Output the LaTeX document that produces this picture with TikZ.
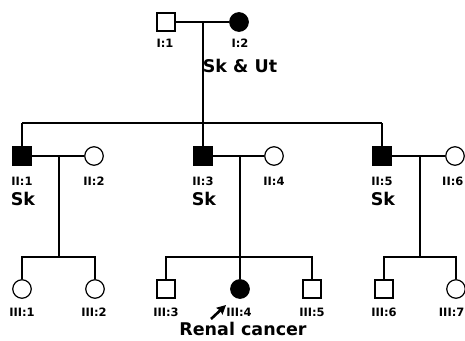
\documentclass[tikz,border=0pt]{standalone}
\usepackage{fontspec}
\setmainfont{DejaVu Sans}
\usetikzlibrary{arrows.meta}
\begin{document}
\begin{tikzpicture}[x=1pt,y=-1pt,
  line width=1.2pt,
  male/.style={draw,rectangle,minimum size=18pt,inner sep=0pt,fill=white},
  female/.style={draw,circle,minimum size=18.5pt,inner sep=0pt,fill=white},
  aff/.style={fill=black},
  idlab/.style={font=\bfseries\fontsize{11.5}{13}\selectfont,inner sep=0pt},
  biglab/.style={font=\bfseries\fontsize{17.5}{19}\selectfont,inner sep=0pt},
  rel/.style={draw=black,line width=1.2pt}]
\useasboundingbox (0,0) rectangle (465,340);
% Generation I
\node[male] (i1) at (166,22) {};
\node[female,aff] (i2) at (239,22) {};
\node[idlab] (li1) at (165,43) {I:1};
\node[idlab] (li2) at (240,43) {I:2};
\node[biglab] (sku) at (240,66) {Sk \& Ut};
\coordinate (m1) at (203,22);
\coordinate (s1) at (203,123);
\coordinate (s1l) at (22,123);
\coordinate (s1r) at (382,123);
% Generation II
\node[male,aff] (ii1) at (22,156) {};
\node[female] (ii2) at (94,156) {};
\node[male,aff] (ii3) at (203,156) {};
\node[female] (ii4) at (274,156) {};
\node[male,aff] (ii5) at (382,156) {};
\node[female] (ii6) at (455,156) {};
\node[idlab] (lii1) at (22,181) {II:1};
\node[idlab] (lii2) at (94,181) {II:2};
\node[idlab] (lii3) at (203,181) {II:3};
\node[idlab] (lii4) at (274,181) {II:4};
\node[idlab] (lii5) at (382,181) {II:5};
\node[idlab,anchor=east] (lii6) at (464,181) {II:6};
\node[biglab] (sk1) at (23,199) {Sk};
\node[biglab] (sk3) at (204,199) {Sk};
\node[biglab] (sk5) at (383,199) {Sk};
\coordinate (m21) at (59,156);
\coordinate (m22) at (240,156);
\coordinate (m23) at (420,156);
\coordinate (s21) at (59,257);
\coordinate (s22) at (240,257);
\coordinate (s23) at (420,257);
% Generation III
\node[female] (iii1) at (22,289) {};
\node[female] (iii2) at (95,289) {};
\node[male] (iii3) at (166,289) {};
\node[female,aff] (iii4) at (240,289) {};
\node[male] (iii5) at (312,289) {};
\node[male] (iii6) at (384,289) {};
\node[female] (iii7) at (456,289) {};
\node[idlab] (liii1) at (22,312) {III:1};
\node[idlab] (liii2) at (94,312) {III:2};
\node[idlab] (liii3) at (166,312) {III:3};
\node[idlab] (liii4) at (239,312) {III:4};
\node[idlab] (liii5) at (312,312) {III:5};
\node[idlab] (liii6) at (384,312) {III:6};
\node[idlab,anchor=east] (liii7) at (465,312) {III:7};
\node[biglab] (renal) at (243,329) {Renal cancer};
\coordinate (at) at (211,319);
\coordinate (ah) at (226,305);
% connectors
\draw[rel] (i1.east) -- (i2.west);
\draw[rel] (m1) -- (s1);
\draw[rel] (s1l) -- (s1r);
\draw[rel] (s1l) -- (ii1.north);
\draw[rel] (s1) -- (ii3.north);
\draw[rel] (s1r) -- (ii5.north);
\draw[rel] (ii1.east) -- (ii2.west);
\draw[rel] (ii3.east) -- (ii4.west);
\draw[rel] (ii5.east) -- (ii6.west);
\draw[rel] (m21) -- (s21);
\draw[rel] (m22) -- (s22);
\draw[rel] (m23) -- (s23);
\draw[rel] (iii1.north) |- (iii2.north |- s21) -- (iii2.north);
\draw[rel] (iii3.north) |- (iii5.north |- s22) -- (iii5.north);
\draw[rel] (s22) -- (iii4.north);
\draw[rel] (iii6.north) |- (iii7.north |- s23) -- (iii7.north);
\draw[line width=2.6pt,-{Stealth[length=9pt,width=9pt,inset=1pt]}] (at) -- (ah);
\end{tikzpicture}
\end{document}
